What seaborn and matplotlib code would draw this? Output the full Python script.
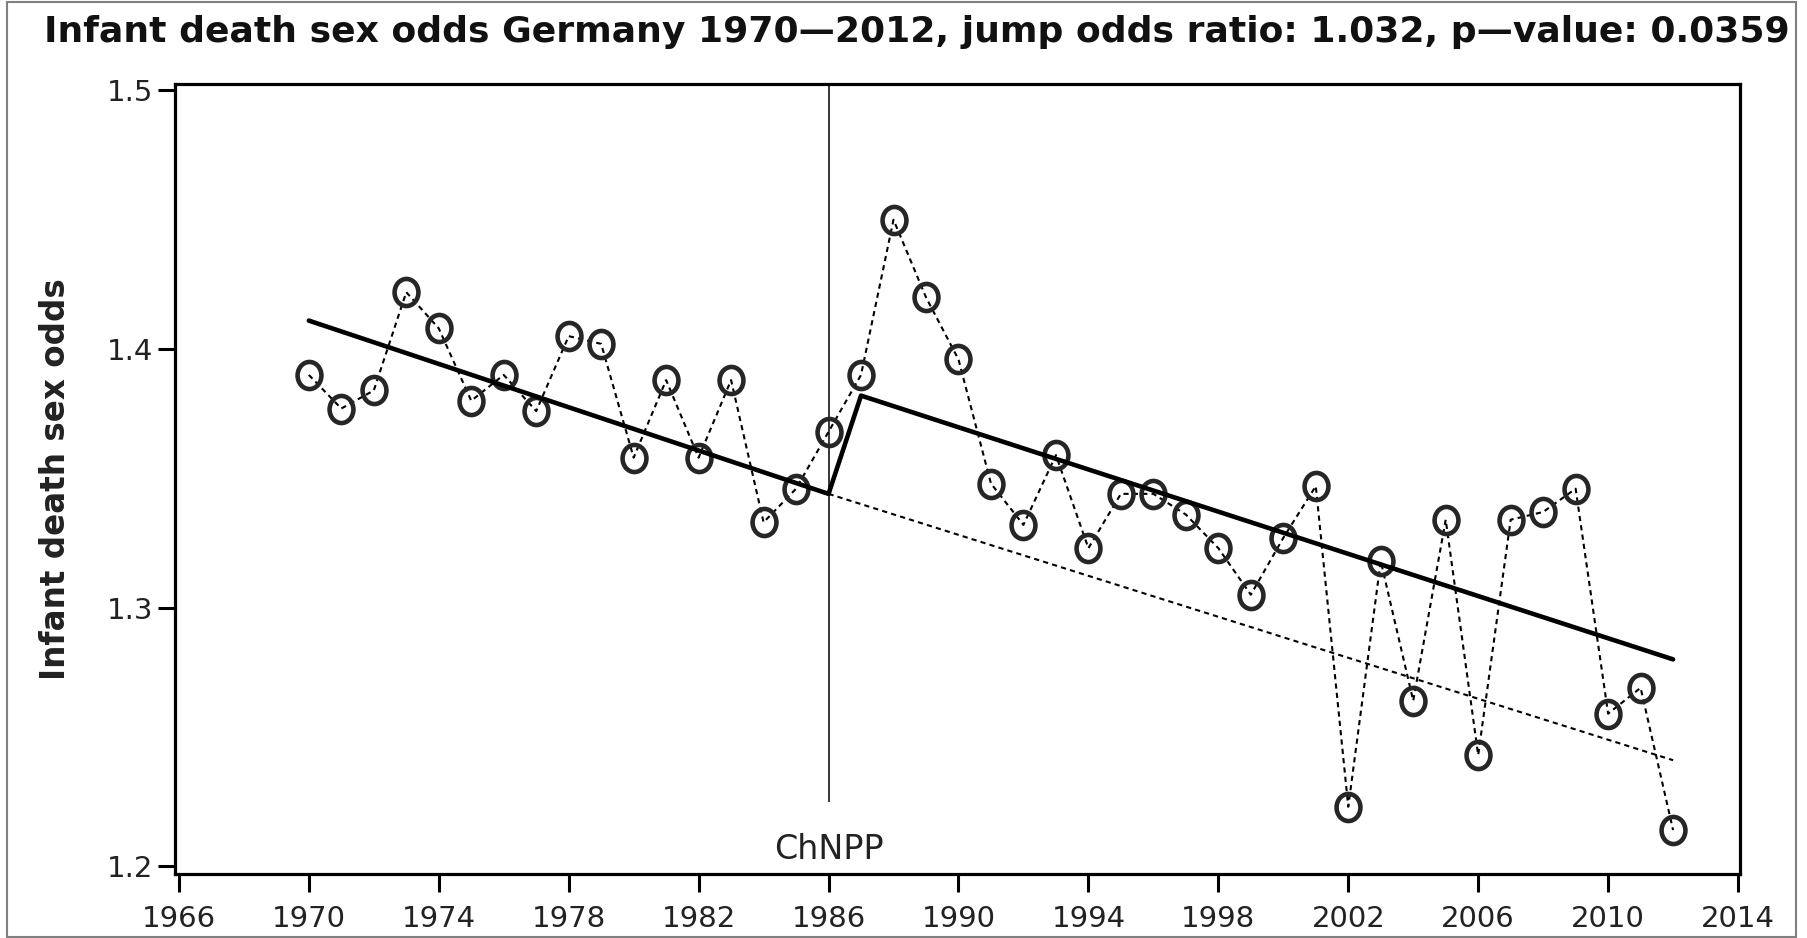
import numpy as np
import pandas as pd
import matplotlib
matplotlib.use("Agg")
import matplotlib.pyplot as plt
import seaborn as sns
from matplotlib.path import Path
from matplotlib.patches import Rectangle

# ---- data ----
years = list(range(1970, 2013))
odds = [1.390, 1.377, 1.384, 1.422, 1.408, 1.380, 1.390, 1.376, 1.405, 1.402,
        1.358, 1.388, 1.358, 1.388, 1.333, 1.346, 1.368, 1.390, 1.450, 1.420,
        1.396, 1.348, 1.332, 1.359, 1.323, 1.344, 1.344, 1.336, 1.323, 1.305,
        1.327, 1.347, 1.223, 1.318, 1.264, 1.334, 1.243, 1.334, 1.337, 1.346,
        1.259, 1.269, 1.214]

trend_years = [1970, 1986, 1987, 2012]
trend_vals = [1.411, 1.344, 1.382, 1.280]

cf_years = [1986, 2012]
cf_vals = [1.344, 1.241]

event_year = 1986
event_label = "ChNPP"
event_line_bottom = 1.225

x_ticks = list(range(1966, 2015, 4))
y_ticks = [1.2, 1.3, 1.4, 1.5]
y_tick_labels = ["1.2", "1.3", "1.4", "1.5"]

title = "Infant death sex odds Germany 1970\u20142012, jump odds ratio: 1.032, p\u2014value: 0.0359"
ylabel = "Infant death sex odds"

# ---- figure ----
sns.set_style("white")
plt.rcParams['font.family'] = ['DejaVu Sans']

W, H = 1808, 938
fig = plt.figure(figsize=(W / 100, H / 100), dpi=100)
ax = fig.add_axes([175 / W, 1 - 874 / H, (1740 - 175) / W, (874 - 84) / H])

df = pd.DataFrame({"year": years, "odds": odds})
tr = pd.DataFrame({"year": trend_years, "val": trend_vals})
cf = pd.DataFrame({"year": cf_years, "val": cf_vals})

# dotted connecting line
sns.lineplot(data=df, x="year", y="odds", ax=ax, color="black", lw=1.5,
             linestyle=(0, (2.5, 2.0)), errorbar=None, zorder=2)

# hollow (slightly oval) markers
circ = Path.unit_circle()
ell = Path(circ.vertices * np.array([0.88, 1.0]), circ.codes)
sns.lineplot(data=df, x="year", y="odds", ax=ax, linestyle="none",
             marker=ell, markersize=19.5, markerfacecolor="none",
             markeredgecolor="#262626", markeredgewidth=3.3,
             errorbar=None, zorder=3)

# counterfactual dotted trend
sns.lineplot(data=cf, x="year", y="val", ax=ax, color="black", lw=1.5,
             linestyle=(0, (2.5, 2.0)), errorbar=None, zorder=2)

# fitted jump trend
sns.lineplot(data=tr, x="year", y="val", ax=ax, color="black", lw=3.3,
             sort=False, errorbar=None, zorder=4)

ylim = (1.197, 1.5025)
ax.set_ylim(*ylim)
ax.set_xlim(1965.88, 2014.06)

ax.vlines(event_year, event_line_bottom, ylim[1], color="black", lw=1.1, zorder=1)
ax.text(event_year, 1.2063, event_label, ha="center", va="center",
        fontsize=24, color="#222222")

ax.set_xticks(x_ticks)
ax.set_xticklabels([str(t) for t in x_ticks])
ax.set_yticks(y_ticks)
ax.set_yticklabels(y_tick_labels)

ax.tick_params(axis="x", direction="out", length=13, width=2.2, pad=9,
               labelsize=21, labelcolor="#222222", color="black", bottom=True)
ax.tick_params(axis="y", direction="out", length=12, width=2.2, pad=3.5,
               labelsize=21, labelcolor="#222222", color="black", left=True)

for s in ax.spines.values():
    s.set_visible(True)
    s.set_color("black")
    s.set_linewidth(2.3)

ax.set_xlabel("")
ax.set_ylabel(ylabel, fontsize=23.5, fontweight="bold", color="#222222")
ax.yaxis.set_label_coords(-0.0658, 0.5)

fig.text(44 / W, 1 - 32 / H, title, ha="left", va="center", fontsize=26,
         fontweight="bold", color="#111111")

# thin gray outer border
fig.patches.append(Rectangle((7 / W, 1 / H), (1796 - 7) / W, (936 - 1) / H,
                             transform=fig.transFigure, fill=False,
                             edgecolor="#808080", lw=1.5))

fig.savefig("out.png", dpi=100)
